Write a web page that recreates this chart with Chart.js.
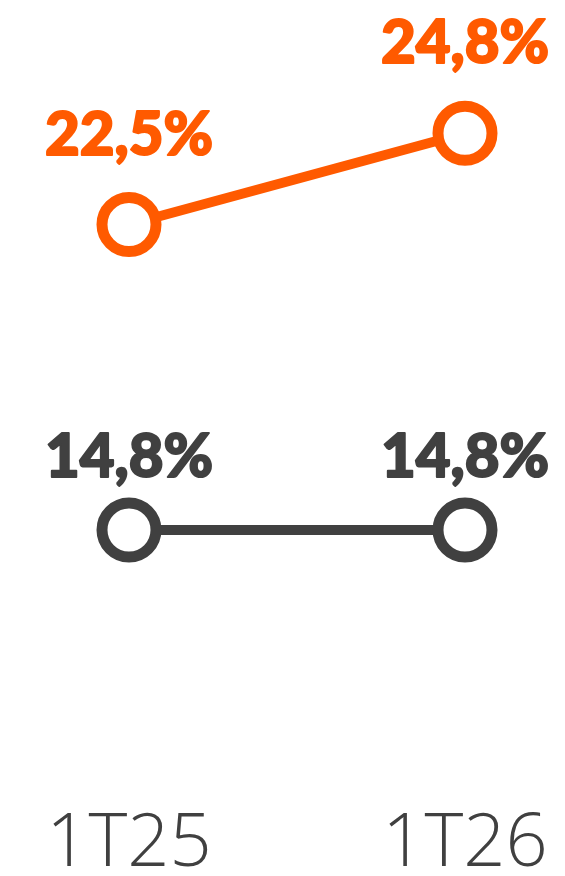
<!DOCTYPE html>
<html lang="pt">
<head>
<meta charset="utf-8">
<script src="https://cdn.jsdelivr.net/npm/chart.js@4"></script>
<style>
  html, body { margin: 0; padding: 0; background: #fff; }
  #wrap { width: 565px; height: 876px; position: relative; }
</style>
</head>
<body>
<div id="wrap"><canvas id="chart"></canvas></div>
<script>
// Trimestres e margens (%)
const trimestres = ['1T25', '1T26'];
const margemLaranja = [22.5, 24.8];
const margemCinza = [14.8, 14.8];

const LARANJA = '#FF5A00';
const CINZA = '#404040';

const fmt = v => v.toFixed(1).replace('.', ',') + '%';

// rótulos de valor acima dos pontos (traço fino para engrossar a fonte)
const rotulos = {
  id: 'rotulos',
  afterDatasetsDraw(chart) {
    const ctx = chart.ctx;
    ctx.save();
    ctx.font = "900 60px Lato, 'Open Sans', sans-serif";
    ctx.textAlign = 'center';
    ctx.textBaseline = 'alphabetic';
    ctx.lineWidth = 2;
    ctx.lineJoin = 'round';
    chart.data.datasets.forEach((ds, i) => {
      const meta = chart.getDatasetMeta(i);
      ctx.fillStyle = ds.borderColor;
      ctx.strokeStyle = ds.borderColor;
      meta.data.forEach((pt, j) => {
        const t = fmt(ds.data[j]);
        ctx.fillText(t, pt.x, pt.y - ds.labelGap);
        ctx.strokeText(t, pt.x, pt.y - ds.labelGap);
      });
    });
    ctx.restore();
  }
};

const serie = (data, cor, gap) => ({
  data,
  borderColor: cor,
  borderWidth: 10,
  pointRadius: 27,
  pointHoverRadius: 27,
  pointBorderWidth: 11,
  pointBackgroundColor: '#fff',
  pointBorderColor: cor,
  labelGap: gap,
  clip: false
});

new Chart(document.getElementById('chart'), {
  type: 'line',
  data: {
    labels: trimestres,
    datasets: [
      serie(margemLaranja, LARANJA, 70),
      serie(margemCinza, CINZA, 53)
    ]
  },
  options: {
    responsive: true,
    maintainAspectRatio: false,
    animation: false,
    layout: { autoPadding: false, padding: { left: 129, right: 100, top: 46, bottom: 0 } },
    plugins: { legend: { display: false }, tooltip: { enabled: false } },
    scales: {
      x: {
        offset: false,
        grid: { display: false },
        border: { display: false },
        ticks: {
          color: CINZA,
          padding: 152,
          maxRotation: 0,
          autoSkip: false,
          font: { family: "'Open Sans', sans-serif", weight: 300, size: 74 }
        },
        afterFit(scale) {
          scale.height = 235;
          scale.paddingLeft = 0;
          scale.paddingRight = 0;
        }
      },
      y: {
        display: false,
        min: 12,
        max: 27
      }
    }
  },
  plugins: [rotulos]
});
</script>
</body>
</html>
